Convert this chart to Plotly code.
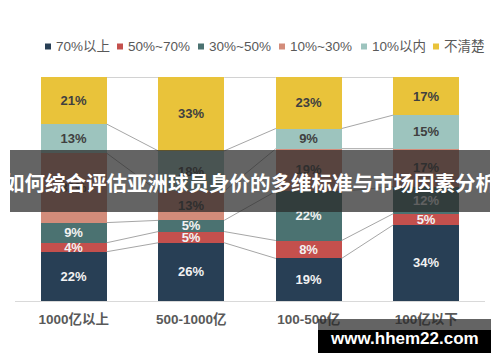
import plotly.graph_objects as go
import numpy as np

categories = ['1000亿以上', '500-1000亿', '100-500亿', '100亿以下']
series_names = ['70%以上', '50%~70%', '30%~50%', '10%~30%', '10%以内', '不清楚']
v_70_up = [22, 26, 19, 34]
v_50_70 = [4, 5, 8, 5]
v_30_50 = [9, 5, 22, 12]
v_10_30 = [31, 13, 19, 17]
v_10_in = [13, 18, 9, 15]
v_unknown = [21, 33, 23, 17]
title_text = '如何综合评估亚洲球员身价的多维标准与市场因素分析'
watermark_text = 'www.hhem22.com'

series_values = [v_70_up, v_50_70, v_30_50, v_10_30, v_10_in, v_unknown]
colors = ['#283F55', '#C4504D', '#4B7271', '#D38C7A', '#9DC4BE', '#E9C33A']
label_colors = ['#F2F2F2', '#F2F2F2', '#F2F2F2', '#404040', '#404040', '#404040']

W, H = 500, 362
L, R, T, B = 15, 15, 77, 61
PW, PH = W - L - R, H - T - B
BAR_W = 0.56

def px(x):
    return (x - L) / PW

def py(y):
    return (H - B - y) / PH

xs = list(range(len(categories)))
fig = go.Figure()

# series lines between bars
cum = np.cumsum(np.array(series_values), axis=0)
lx, ly = [], []
for k in range(cum.shape[0]):
    for i in range(len(xs) - 1):
        lx += [xs[i] + BAR_W / 2, xs[i + 1] - BAR_W / 2, None]
        ly += [cum[k][i], cum[k][i + 1], None]
fig.add_trace(go.Scatter(x=lx, y=ly, mode='lines', line=dict(color='#A6A6A6', width=1),
                         showlegend=False, hoverinfo='skip'))

for name, vals, c, lc in zip(series_names, series_values, colors, label_colors):
    fig.add_trace(go.Bar(
        x=xs, y=vals, name=name, width=BAR_W, marker=dict(color=c, line=dict(width=0)),
        text=[f'<b>{v}%</b>' for v in vals], textposition='inside', insidetextanchor='middle',
        textangle=0, textfont=dict(color=lc, size=13, family='Liberation Sans, Arial, sans-serif'),
        showlegend=False, hoverinfo='skip',
    ))

# legend drawn as squares + text
leg_sq = [45, 117, 198, 279, 361, 433]
shapes = []
annotations = []
ly_leg = 46.5
for x0, name, c in zip(leg_sq, series_names, colors):
    shapes.append(dict(type='rect', xref='paper', yref='paper', x0=px(x0), x1=px(x0 + 6),
                       y0=py(ly_leg + 3), y1=py(ly_leg - 3), fillcolor=c, line=dict(width=0)))
    annotations.append(dict(xref='paper', yref='paper', x=px(x0 + 9), y=py(ly_leg), text=name,
                            showarrow=False, xanchor='left', yanchor='middle',
                            font=dict(size=13.5, color='#595959',
                                      family='Liberation Sans, Noto Sans CJK SC, sans-serif')))

# banner
shapes.append(dict(type='rect', xref='paper', yref='paper', x0=px(10), x1=px(490), y0=py(212), y1=py(150),
                   fillcolor='rgba(40,40,40,0.72)', line=dict(width=0), layer='above'))
annotations.append(dict(xref='paper', yref='paper', x=px(250), y=py(182), text='<b>' + title_text + '</b>',
                        showarrow=False, xanchor='center', yanchor='middle',
                        font=dict(size=20.5, color='white', family='Noto Sans CJK SC, sans-serif')))
# watermark
shapes.append(dict(type='rect', xref='paper', yref='paper', x0=px(318), x1=px(491), y0=py(330), y1=py(319),
                   fillcolor='rgba(40,40,40,0.72)', line=dict(width=0), layer='above'))
shapes.append(dict(type='rect', xref='paper', yref='paper', x0=px(318), x1=px(491), y0=py(353), y1=py(330),
                   fillcolor='black', line=dict(width=0), layer='above'))
annotations.append(dict(xref='paper', yref='paper', x=px(404), y=py(338), text='<b>' + watermark_text + '</b>',
                        showarrow=False, xanchor='center', yanchor='middle',
                        font=dict(size=17, color='white', family='Liberation Sans, Arial, sans-serif')))

fig.update_layout(
    barmode='stack', width=W, height=H, margin=dict(l=L, r=R, t=T, b=B, pad=0),
    paper_bgcolor='white', plot_bgcolor='white', bargap=0.44,
    showlegend=False, shapes=shapes, annotations=annotations,
    uniformtext=dict(minsize=13, mode='show'),
    xaxis=dict(range=[-0.5, 3.5], tickvals=xs, ticktext=['<b>' + c + '</b>' for c in categories],
               showgrid=False, zeroline=False, showline=True, linecolor='#D9D9D9', linewidth=1,
               tickfont=dict(size=13.5, color='#595959', family='Liberation Sans, Noto Sans CJK SC, sans-serif'),
               ticks='', ticklabelstandoff=6, fixedrange=True),
    yaxis=dict(range=[0, 100], showgrid=False, zeroline=False, showticklabels=False, showline=False,
               fixedrange=True),
)

fig.write_html('out.html', config={'displayModeBar': False},
               post_script="document.body.style.margin='0';document.body.style.padding='0';")
